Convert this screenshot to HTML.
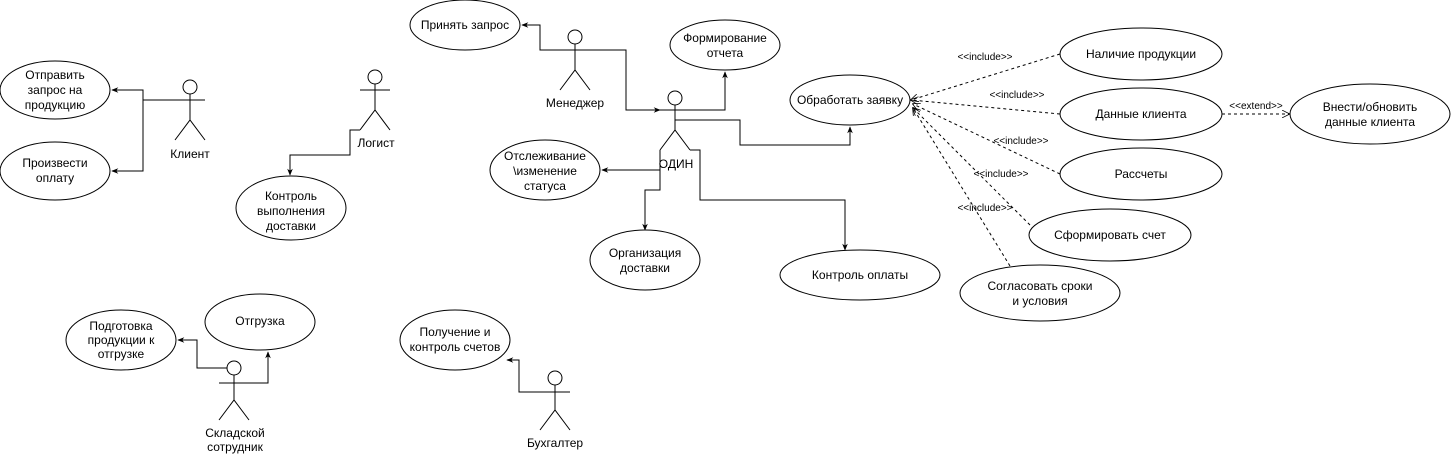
<!DOCTYPE html>
<html><head><meta charset="utf-8"><style>
html,body{margin:0;padding:0;background:#fff;}
svg{display:block;font-family:"Liberation Sans",Arial,sans-serif;font-size:12px;}
</style></head><body>
<svg width="1451" height="457" viewBox="0 0 1451 457" xmlns="http://www.w3.org/2000/svg">
<defs>
<marker id="a" viewBox="0 0 10 10" refX="9" refY="5" markerWidth="7" markerHeight="7" orient="auto-start-reverse"><path d="M0,1 L10,5 L0,9 L3,5 z" fill="#000"/></marker>
<marker id="o" viewBox="0 0 10 10" refX="9" refY="5" markerWidth="8" markerHeight="8" orient="auto"><path d="M0,0 L10,5 L0,10" fill="none" stroke="#000" stroke-width="1"/></marker>
</defs>
<g fill="#fff" stroke="#000" stroke-width="1">
<ellipse cx="55" cy="90" rx="55" ry="29"/>
<ellipse cx="55" cy="171" rx="55" ry="29"/>
<ellipse cx="291" cy="208" rx="55" ry="32"/>
<ellipse cx="465" cy="25" rx="55" ry="25"/>
<ellipse cx="725" cy="45" rx="55" ry="25"/>
<ellipse cx="850" cy="100" rx="60" ry="25"/>
<ellipse cx="545" cy="170" rx="55" ry="30"/>
<ellipse cx="645" cy="260" rx="55" ry="30"/>
<ellipse cx="860" cy="275" rx="80" ry="25"/>
<ellipse cx="1141" cy="54" rx="81" ry="26"/>
<ellipse cx="1141" cy="114" rx="81" ry="26"/>
<ellipse cx="1370" cy="114" rx="80" ry="30"/>
<ellipse cx="1141" cy="174" rx="81" ry="26"/>
<ellipse cx="1110" cy="235" rx="81" ry="26"/>
<ellipse cx="1040" cy="293" rx="80" ry="28"/>
<ellipse cx="121" cy="340" rx="55" ry="30"/>
<ellipse cx="260" cy="322" rx="55" ry="28"/>
<ellipse cx="455" cy="340" rx="55" ry="30"/>
</g>
<g fill="none" stroke="#000" stroke-width="1">
<circle cx="190" cy="87" r="7"/><path d="M190,94V120M175,100H205M175,140L190,120L205,140"/>
<circle cx="375" cy="77" r="7"/><path d="M375,84V110M360,90H390M360,130L375,110L390,130"/>
<circle cx="575" cy="37" r="7"/><path d="M575,44V70M560,50H590M560,90L575,70L590,90"/>
<circle cx="675" cy="98" r="7"/><path d="M675,105V130M660,110H690M660,150L675,130L690,150"/>
<circle cx="234" cy="368" r="7"/><path d="M234,375V400M219,383H249M219,420L234,400L249,420"/>
<circle cx="555" cy="378" r="7"/><path d="M555,385V410M540,392H570M540,430L555,410L570,430"/>
<path d="M190,100H143V90H112" marker-end="url(#a)"/>
<path d="M143,100V171H112" marker-end="url(#a)"/>
<path d="M360,130H350V155H290V175" marker-end="url(#a)"/>
<path d="M575,50H540V25H522" marker-end="url(#a)"/>
<path d="M575,50H626V110H660" marker-end="url(#a)"/>
<path d="M675,110H725V72" marker-end="url(#a)"/>
<path d="M675,120H740V145H850V127" marker-end="url(#a)"/>
<path d="M660,170H602" marker-end="url(#a)"/>
<path d="M660,150V190H645V230" marker-end="url(#a)"/>
<path d="M690,150H700V200H845V250" marker-end="url(#a)"/>
<path d="M227,368H197V340H178" marker-end="url(#a)"/>
<path d="M249,383H268V352" marker-end="url(#a)"/>
<path d="M540,392H519V360H507" marker-end="url(#a)"/>
</g>
<g fill="none" stroke="#000" stroke-width="1" stroke-dasharray="3,3">
<path d="M1060,54L911,100" marker-end="url(#o)"/>
<path d="M1060,114L911,100" marker-end="url(#o)"/>
<path d="M1060,174L913,104" marker-end="url(#o)"/>
<path d="M1030,225L913,108" marker-end="url(#o)"/>
<path d="M1010,266L913,108" marker-end="url(#o)"/>
<path d="M1222,114H1289" marker-end="url(#o)"/>
</g>
<g fill="#000" text-anchor="middle">
<text x="55" y="79">Отправить</text><text x="55" y="94">запрос на</text><text x="55" y="109">продукцию</text>
<text x="55" y="167">Произвести</text><text x="55" y="182">оплату</text>
<text x="190" y="158">Клиент</text>
<text x="376" y="147">Логист</text>
<text x="291" y="200">Контроль</text><text x="291" y="215">выполнения</text><text x="291" y="230">доставки</text>
<text x="465" y="29">Принять запрос</text>
<text x="575" y="107">Менеджер</text>
<text x="725" y="42">Формирование</text><text x="725" y="57">отчета</text>
<text x="850" y="104">Обработать заявку</text>
<text x="676" y="168">ОДИН</text>
<text x="545" y="160">Отслеживание</text><text x="545" y="175">\изменение</text><text x="545" y="190">статуса</text>
<text x="645" y="257">Организация</text><text x="645" y="272">доставки</text>
<text x="860" y="279">Контроль оплаты</text>
<text x="1141" y="58">Наличие продукции</text>
<text x="1141" y="118">Данные клиента</text>
<text x="1370" y="111">Внести/обновить</text><text x="1370" y="126">данные клиента</text>
<text x="1141" y="178">Рассчеты</text>
<text x="1110" y="239">Сформировать счет</text>
<text x="1040" y="290">Согласовать сроки</text><text x="1040" y="305">и условия</text>
<text x="121" y="330">Подготовка</text><text x="121" y="344">продукции к</text><text x="121" y="358">отгрузке</text>
<text x="260" y="325">Отгрузка</text>
<text x="455" y="336">Получение и</text><text x="455" y="351">контроль счетов</text>
<text x="235" y="437">Складской</text><text x="235" y="451">сотрудник</text>
<text x="555" y="447">Бухгалтер</text>
</g>
<g fill="#000" text-anchor="middle" font-size="10">
<text x="985" y="60">&lt;&lt;include&gt;&gt;</text>
<text x="1017" y="98">&lt;&lt;include&gt;&gt;</text>
<text x="1021" y="144">&lt;&lt;include&gt;&gt;</text>
<text x="1001" y="177">&lt;&lt;include&gt;&gt;</text>
<text x="985" y="211">&lt;&lt;include&gt;&gt;</text>
<text x="1256" y="109">&lt;&lt;extend&gt;&gt;</text>
</g>
</svg>
</body></html>
